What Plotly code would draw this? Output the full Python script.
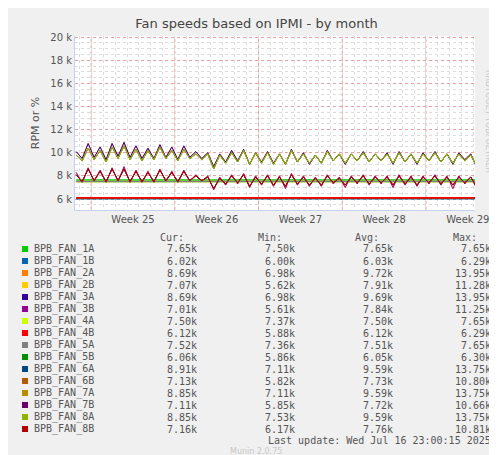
import plotly.graph_objects as go

# ---- data (values in RPM/1000, sampled every half day from day -1.25) ----
high_a = [10.1,9.5,10.8,9.6,10.5,9.4,10.8,9.7,10.9,9.6,10.6,9.5,10.4,9.5,10.7,9.6,10.5,9.4,10.6,9.6,
          10.1,9.5,10.0,8.8,9.9,9.2,10.2,9.3,10.3,9.0,10.0,9.2,10.1,9.1,9.9,9.0,10.3,9.2,10.0,9.0,
          9.8,9.1,10.2,9.3,9.9,9.0,9.9,9.3,10.1,9.2,9.9,9.3,10.0,9.0,10.1,9.2,9.9,9.0,10.0,9.3,
          10.1,9.2,9.9,9.0,10.0,9.4,9.9,8.7]
high_b = [9.8,9.3,10.4,9.4,10.2,9.2,10.5,9.5,10.6,9.4,10.3,9.3,10.2,9.4,10.5,9.5,10.2,9.3,10.3,9.5,
          9.9,9.4,9.9,8.6,9.8,9.1,10.0,9.2,10.2,9.0,10.0,9.1,10.0,9.0,9.9,9.0,10.2,9.2,9.9,9.1,
          9.8,9.1,10.1,9.3,9.9,9.1,9.9,9.3,10.0,9.2,9.9,9.3,9.9,9.1,10.0,9.2,9.9,9.1,9.9,9.3,
          10.0,9.2,9.9,9.1,9.9,9.3,9.8,8.8]
mid_a = [8.1,7.5,8.6,7.6,8.4,7.5,8.6,7.6,8.6,7.5,8.4,7.5,8.3,7.5,8.5,7.6,8.3,7.5,8.4,7.6,
         8.0,7.6,7.9,6.9,7.8,7.3,8.0,7.4,8.1,7.1,7.9,7.3,8.0,7.2,7.9,7.1,8.1,7.3,7.9,7.2,
         7.8,7.2,8.0,7.4,7.8,7.2,7.9,7.4,8.0,7.3,7.9,7.4,7.9,7.2,8.0,7.3,7.9,7.2,7.9,7.4,
         8.0,7.3,7.9,7.2,7.9,7.4,7.9,7.0]
mid_b = [8.3,7.4,8.7,7.5,8.5,7.4,8.7,7.5,8.8,7.4,8.5,7.4,8.4,7.4,8.6,7.5,8.4,7.4,8.5,7.5,
         8.1,7.5,8.0,6.8,7.9,7.2,8.1,7.3,8.2,7.0,8.0,7.2,8.1,7.1,8.0,6.9,8.2,7.2,8.0,7.1,
         7.9,7.1,8.1,7.3,7.9,7.0,8.0,7.3,8.1,7.2,8.0,7.3,8.0,7.0,8.1,7.2,8.0,7.1,8.0,7.3,
         8.1,7.2,8.0,6.9,8.0,7.3,7.9,6.9]
times = [-1.25 + 0.5 * i for i in range(len(high_a))]
flat_t = [times[0], times[-1]]

names = ["BPB_FAN_1A","BPB_FAN_1B","BPB_FAN_2A","BPB_FAN_2B","BPB_FAN_3A","BPB_FAN_3B",
         "BPB_FAN_4A","BPB_FAN_4B","BPB_FAN_5A","BPB_FAN_5B","BPB_FAN_6A","BPB_FAN_6B",
         "BPB_FAN_7A","BPB_FAN_7B","BPB_FAN_8A","BPB_FAN_8B"]
colors = ["#00CC00","#0066B3","#FF8000","#FFCC00","#330099","#990099","#CCFF00","#FF0000",
          "#808080","#008F00","#00487D","#B35A00","#B38F00","#6B006B","#8FB300","#B30000"]
series = {
    "BPB_FAN_1A": [7.65, 7.65], "BPB_FAN_1B": [6.02, 6.02], "BPB_FAN_2A": high_a, "BPB_FAN_2B": mid_b,
    "BPB_FAN_3A": high_a, "BPB_FAN_3B": mid_b, "BPB_FAN_4A": [7.50, 7.50], "BPB_FAN_4B": [6.10, 6.10],
    "BPB_FAN_5A": [7.52, 7.52], "BPB_FAN_5B": [6.06, 6.06], "BPB_FAN_6A": high_b, "BPB_FAN_6B": mid_a,
    "BPB_FAN_7A": high_b, "BPB_FAN_7B": mid_a, "BPB_FAN_8A": high_b, "BPB_FAN_8B": mid_a,
}
cur = ["7.65k","6.02k","8.69k","7.07k","8.69k","7.01k","7.50k","6.12k","7.52k","6.06k","8.91k","7.13k","8.85k","7.11k","8.85k","7.16k"]
mn  = ["7.50k","6.00k","6.98k","5.62k","6.98k","5.61k","7.37k","5.88k","7.36k","5.86k","7.11k","5.82k","7.11k","5.85k","7.53k","6.17k"]
avg = ["7.65k","6.03k","9.72k","7.91k","9.69k","7.84k","7.50k","6.12k","7.51k","6.05k","9.59k","7.73k","9.59k","7.72k","9.59k","7.76k"]
mx  = ["7.65k","6.29k","13.95k","11.28k","13.95k","11.25k","7.65k","6.29k","7.65k","6.30k","13.75k","10.80k","13.75k","10.66k","13.75k","10.81k"]
week_centers = [3.5, 10.5, 17.5, 24.5, 31.5]
week_labels = ["Week 25", "Week 26", "Week 27", "Week 28", "Week 29"]
week_bounds = [0, 7, 14, 21, 28]
y_ticks = [6000, 8000, 10000, 12000, 14000, 16000, 18000, 20000]
y_labels = ["6 k", "8 k", "10 k", "12 k", "14 k", "16 k", "18 k", "20 k"]

draw_order = [0, 2, 3, 4, 5, 6, 8, 10, 11, 12, 13, 14, 15, 1, 9, 7]
fig = go.Figure()
for i in draw_order:
    n, c = names[i], colors[i]
    v = series[n]
    t = flat_t if len(v) == 2 else times
    fig.add_trace(go.Scatter(x=t, y=[x * 1000 for x in v], mode="lines", name=n,
                             line=dict(color=c, width=1.6 if len(v) == 2 else 1), showlegend=False))

for b in week_bounds:
    fig.add_shape(type="line", x0=b, x1=b, y0=0, y1=1, yref="paper",
                  line=dict(color="#E8A0A0", width=1, dash="dot"), layer="below")

fig.update_layout(
    width=497, height=455, autosize=False, paper_bgcolor="#F0F0F0", plot_bgcolor="#FFFFFF",
    margin=dict(l=67, r=30, t=28, b=253, pad=0),
    font=dict(family="DejaVu Sans", size=10, color="#555"),
    title=dict(text="Fan speeds based on IPMI - by month", x=0.5, xanchor="center", y=0.975,
               font=dict(size=13, color="#444")),
    xaxis=dict(range=[-1.35, 32.1], tickvals=week_centers, ticktext=week_labels, showgrid=False,
               zeroline=False, ticks="", showline=True, linecolor="#C8D0F0", automargin=False,
               minor=dict(dtick=1, showgrid=True, gridcolor="#DDDDDD", griddash="dot", tick0=0)),
    yaxis=dict(range=[5050, 20100], tickvals=y_ticks, ticktext=y_labels, zeroline=False,
               gridcolor="#E8A0A0", griddash="dot", showline=True, linecolor="#C8D0F0", automargin=False,
               title=dict(text="RPM or %", font=dict(size=11, color="#555"), standoff=8),
               minor=dict(dtick=500, showgrid=True, gridcolor="#DDDDDD", griddash="dot")),
)

mono = dict(family="DejaVu Sans Mono", size=10, color="#555")
def ann(x, y, text, anchor="left", **kw):
    fig.add_annotation(x=x, y=y, xref="paper", yref="paper", text=text, showarrow=False,
                       xanchor=anchor, yanchor="middle", borderpad=0, font=kw.get("font", mono))

def py(pix):  # pixel row -> paper coordinate
    return (455 - 253 - pix) / (455 - 28 - 253)
def px(pix):
    return (pix - 67) / (497 - 67 - 30)

for h, xr in zip(["Cur:", "Min:", "Avg:", "Max:"], [177, 275, 372, 470]):
    ann(px(xr), py(229), h, "right")
for i, n in enumerate(names):
    yy = py(241 + 12 * i)
    fig.add_shape(type="rect", xref="paper", yref="paper", x0=px(14), x1=px(20),
                  y0=yy - 3 / 174, y1=yy + 3 / 174, fillcolor=colors[i], line=dict(width=0))
    ann(px(25), yy, n)
    ann(px(190), yy, cur[i], "right")
    ann(px(288), yy, mn[i], "right")
    ann(px(386), yy, avg[i], "right")
    ann(px(484), yy, mx[i], "right")
ann(px(484), py(432), "Last update: Wed Jul 16 23:00:15 2025", "right")
ann(px(248), py(444), "Munin 2.0.75", "center", font=dict(family="DejaVu Sans", size=8, color="#C8C8C8"))
fig.add_annotation(x=px(487), y=py(60), xref="paper", yref="paper", text="RRDTOOL / TOBI OETIKER",
                   textangle=90, showarrow=False, font=dict(family="DejaVu Sans", size=8, color="#C8C8C8"))

fig.write_html("out.html")
